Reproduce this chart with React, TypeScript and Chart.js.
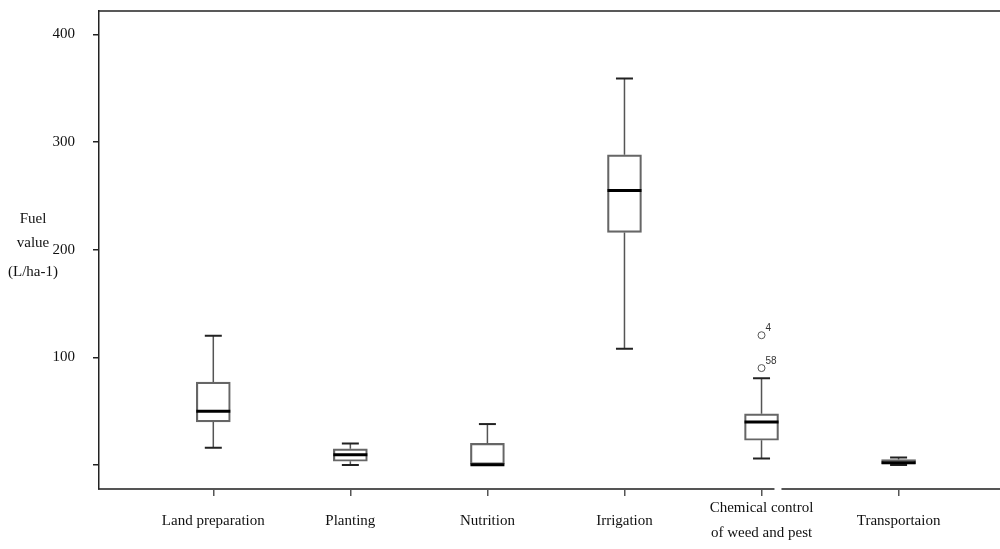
import React, { useEffect, useRef } from "react";
import { Chart, registerables } from "chart.js";

Chart.register(...registerables);

// ---- data ----
const CATEGORIES: string[][] = [
  ["Land preparation"],
  ["Planting"],
  ["Nutrition"],
  ["Irrigation"],
  ["Chemical control", "of weed and pest"],
  ["Transportaion"],
];
const WHISKER_LOW = [16, 0, 0, 108, 6, 0];
const Q1 = [40, 3.5, 0, 216, 23, 1];
const MEDIAN = [50, 9.5, 0.3, 255, 40, 2];
const Q3 = [77, 15, 20, 288, 47.5, 5];
const WHISKER_HIGH = [120, 20, 38, 359, 80.5, 7];
const OUTLIER_CATEGORY = [4, 4];
const OUTLIER_VALUES = [120.5, 90];
const OUTLIER_IDS = ["4", "58"];
const Y_TICKS = [0, 100, 200, 300, 400];
const Y_TICK_LABELS = ["", "100", "200", "300", "400"];
const Y_TITLE = ["Fuel", "value", "(L/ha-1)"];

const SERIF = "'Liberation Serif', 'Times New Roman', serif";

const boxplotPlugin = {
  id: "boxplotExtras",
  afterDatasetsDraw(chart: any) {
    const ctx = chart.ctx;
    const xs = chart.scales.x;
    const ys = chart.scales.y;
    const barMeta = chart.getDatasetMeta(0);
    ctx.save();
    CATEGORIES.forEach((_, i) => {
      const cx = xs.getPixelForValue(i);
      const bar = barMeta.data[i];
      const half = bar ? bar.width / 2 : 17;
      const capHalf = half / 2;
      const yLow = ys.getPixelForValue(WHISKER_LOW[i]);
      const yQ1 = ys.getPixelForValue(Q1[i]);
      const yQ3 = ys.getPixelForValue(Q3[i]);
      const yHigh = ys.getPixelForValue(WHISKER_HIGH[i]);
      const yMed = ys.getPixelForValue(MEDIAN[i]);
      // whiskers
      ctx.strokeStyle = "#555";
      ctx.lineWidth = 1.5;
      ctx.beginPath();
      if (WHISKER_HIGH[i] > Q3[i]) {
        ctx.moveTo(cx, yQ3);
        ctx.lineTo(cx, yHigh);
      }
      if (WHISKER_LOW[i] < Q1[i]) {
        ctx.moveTo(cx, yQ1);
        ctx.lineTo(cx, yLow);
      }
      ctx.stroke();
      // caps
      ctx.strokeStyle = "#222";
      ctx.lineWidth = 2;
      ctx.beginPath();
      ctx.moveTo(cx - capHalf, yHigh);
      ctx.lineTo(cx + capHalf, yHigh);
      if (WHISKER_LOW[i] < Q1[i]) {
        ctx.moveTo(cx - capHalf, yLow);
        ctx.lineTo(cx + capHalf, yLow);
      }
      ctx.stroke();
      // median
      ctx.strokeStyle = "#000";
      ctx.lineWidth = 3;
      ctx.beginPath();
      ctx.moveTo(cx - half, yMed);
      ctx.lineTo(cx + half, yMed);
      ctx.stroke();
    });
    // outlier labels
    const outMeta = chart.getDatasetMeta(1);
    ctx.fillStyle = "#333";
    ctx.font = "10px 'Liberation Sans', Arial, sans-serif";
    ctx.textAlign = "left";
    ctx.textBaseline = "middle";
    OUTLIER_IDS.forEach((id, k) => {
      const pt = outMeta.data[k];
      if (!pt) return;
      ctx.fillText(id, pt.x + 4, pt.y - 7);
    });
    ctx.restore();
  },
  afterDraw(chart: any) {
    const ctx = chart.ctx;
    const area = chart.chartArea;
    const xs = chart.scales.x;
    ctx.save();
    // top frame line
    ctx.strokeStyle = "#222";
    ctx.lineWidth = 1.5;
    ctx.beginPath();
    ctx.moveTo(area.left, area.top);
    ctx.lineTo(area.right, area.top);
    ctx.stroke();
    // axis break on bottom axis
    const bx = xs.getPixelForValue(4.12);
    ctx.fillStyle = "#fff";
    ctx.fillRect(bx - 3.5, area.bottom - 2, 7, 4);
    // y title
    ctx.fillStyle = "#111";
    ctx.font = `15px ${SERIF}`;
    ctx.textAlign = "center";
    ctx.textBaseline = "alphabetic";
    const baselines = [223, 247, 276];
    Y_TITLE.forEach((line, k) => ctx.fillText(line, 33, baselines[k]));
    ctx.restore();
  },
};

export default function App() {
  const canvasRef = useRef<HTMLCanvasElement | null>(null);

  useEffect(() => {
    const canvas = canvasRef.current;
    if (!canvas) return;
    const chart = new Chart(canvas, {
      type: "bar",
      data: {
        datasets: [
          {
            type: "bar",
            data: CATEGORIES.map((_, i) => ({ x: i, y: [Q1[i], Q3[i]] })) as any,
            backgroundColor: "rgba(255,255,255,0)",
            borderColor: "#666",
            borderWidth: 1.5,
            borderSkipped: false,
            barThickness: 34,
          } as any,
          {
            type: "scatter",
            data: OUTLIER_VALUES.map((v, k) => ({ x: OUTLIER_CATEGORY[k], y: v })),
            pointRadius: 3.5,
            pointBorderColor: "#555",
            pointBackgroundColor: "rgba(0,0,0,0)",
            pointBorderWidth: 1,
            showLine: false,
          } as any,
        ],
      },
      options: {
        responsive: false,
        animation: false,
        devicePixelRatio: 1,
        layout: { autoPadding: false, padding: { top: 11, left: 0, right: 0, bottom: 0 } },
        plugins: {
          legend: { display: false },
          tooltip: { enabled: false },
        },
        scales: {
          x: {
            type: "linear",
            offset: false,
            min: -0.834,
            max: 5.74,
            afterBuildTicks: (s: any) => {
              s.ticks = CATEGORIES.map((_, i) => ({ value: i }));
            },
            afterFit: (s: any) => {
              s.height = 60;
              s.paddingLeft = 0;
              s.paddingRight = 0;
            },
            grid: {
              display: true,
              offset: false,
              drawOnChartArea: false,
              drawTicks: true,
              tickLength: 7,
              color: "#555",
              lineWidth: 1.5,
            },
            border: { display: true, color: "#555", width: 2 },
            ticks: {
              callback: (_v: any, i: number) => CATEGORIES[i],
              autoSkip: false,
              maxRotation: 0,
              minRotation: 0,
              padding: 12,
              crossAlign: "center",
              color: "#111",
              font: { family: SERIF, size: 15, lineHeight: 1.7 },
            },
          } as any,
          y: {
            type: "linear",
            min: -22.3,
            max: 421.6,
            afterBuildTicks: (s: any) => {
              s.ticks = Y_TICKS.map((v) => ({ value: v }));
            },
            afterFit: (s: any) => {
              s.width = 99;
              s.paddingTop = 0;
              s.paddingBottom = 0;
            },
            grid: {
              display: true,
              drawOnChartArea: false,
              drawTicks: true,
              tickLength: 6,
              color: "#222",
              lineWidth: 1.5,
            },
            border: { display: true, color: "#222", width: 1.5 },
            ticks: {
              callback: (_v: any, i: number) => Y_TICK_LABELS[i],
              padding: 18,
              color: "#111",
              font: { family: SERIF, size: 15 },
            },
          } as any,
        },
      },
      plugins: [boxplotPlugin],
    });
    return () => chart.destroy();
  }, []);

  return (
    <div style={{ position: "fixed", left: 0, top: 0, width: 1000, height: 549, background: "#fff" }}>
      <canvas ref={canvasRef} width={1000} height={549} style={{ width: 1000, height: 549, display: "block" }} />
    </div>
  );
}
